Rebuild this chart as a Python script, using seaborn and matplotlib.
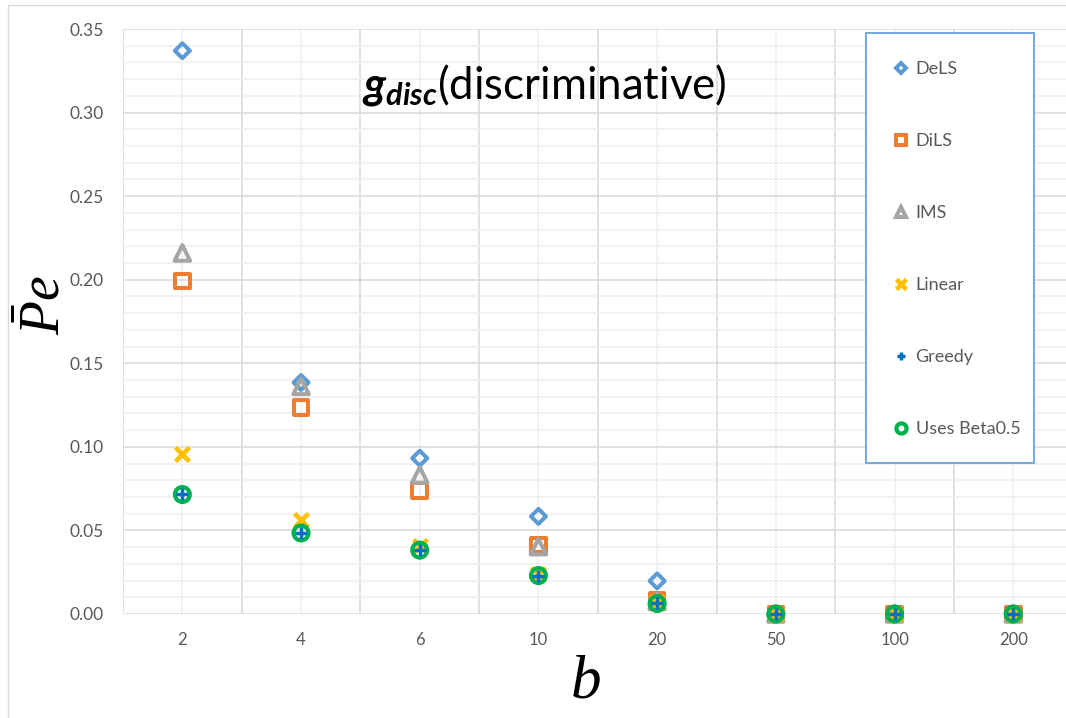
import numpy as np
import pandas as pd
import matplotlib
matplotlib.use("Agg")
import matplotlib.pyplot as plt
from matplotlib.patches import Rectangle
from matplotlib.lines import Line2D
import seaborn as sns

# Block size b (categorical axis) and mean error probability per method
b_values = ["2", "4", "6", "10", "20", "50", "100", "200"]
dels = [0.337, 0.1385, 0.0932, 0.0584, 0.0198, 0.0, 0.0, 0.0]
dils = [0.1993, 0.1234, 0.0737, 0.0412, 0.0080, 0.0, 0.0, 0.0]
ims = [0.2160, 0.1362, 0.0832, 0.0403, 0.0075, 0.0, 0.0, 0.0]
linear = [0.0960, 0.0562, 0.0405, 0.0240, 0.0070, 0.0, 0.0, 0.0]
greedy = [0.0715, 0.0485, 0.0382, 0.0230, 0.0063, 0.0, 0.0, 0.0]
beta05 = [0.0715, 0.0485, 0.0382, 0.0230, 0.0063, 0.0, 0.0, 0.0]

series_names = ["DeLS", "DiLS", "IMS", "Linear", "Greedy", "Uses Beta0.5"]
series_values = [dels, dils, ims, linear, greedy, beta05]

sns.set_theme(style="white")
plt.rcParams["font.family"] = ["Lato", "DejaVu Sans"]
plt.rcParams["mathtext.fontset"] = "custom"
plt.rcParams["mathtext.it"] = "Liberation Serif:italic"
plt.rcParams["mathtext.rm"] = "Liberation Serif"
plt.rcParams["mathtext.bf"] = "Lato:italic:bold"

df = pd.DataFrame({"b": np.tile(b_values, len(series_names)),
                   "method": np.repeat(series_names, len(b_values)),
                   "pe": np.concatenate(series_values)})

# marker, colour, hollow?, size, edge width, zorder
styles = {
    "DeLS": ("D", "#5B9BD5", True, 58, 2.9, 3),
    "DiLS": ("s", "#ED7D31", True, 112, 2.9, 3),
    "IMS": ("^", "#A5A5A5", True, 125, 2.9, 4),
    "Linear": ("x", "#FFC000", False, 100, 3.3, 4),
    "Uses Beta0.5": ("o", "#00B050", True, 115, 3.0, 5),
    "Greedy": ("+", "#0070C0", False, 70, 2.5, 6),
}

W, H = 1066, 718
fig = plt.figure(figsize=(W / 100, H / 100), dpi=100)
ax = fig.add_axes([123 / W, (H - 614) / H, 949.6 / W, 585 / H])

for name in ["DeLS", "DiLS", "IMS", "Linear", "Uses Beta0.5", "Greedy"]:
    m, c, hollow, s, lw, z = styles[name]
    sub = df[df["method"] == name]
    kw = dict(facecolor="none", edgecolor=c) if hollow else dict(color=c)
    sns.scatterplot(data=sub, x="b", y="pe", marker=m, s=s, linewidth=lw,
                    ax=ax, zorder=z, legend=False, clip_on=False, **kw)

ax.set_xlim(-0.5, len(b_values) - 0.5)
ax.set_ylim(0, 0.35)
ax.set_xticks(range(len(b_values)))
ax.set_xticklabels(b_values)
ax.set_xticks(np.arange(-0.5, len(b_values), 1.0), minor=True)
ax.set_yticks(np.arange(0, 0.351, 0.05))
ax.set_yticklabels([f"{v:.2f}" for v in np.arange(0, 0.351, 0.05)])
ax.set_yticks(np.arange(0, 0.351, 0.01), minor=True)

ax.set_axisbelow(True)
ax.grid(False)
ax.xaxis.grid(True, which="major", color="#efefef", linewidth=1.1)
ax.xaxis.grid(True, which="minor", color="#d9d9d9", linewidth=1.1)
ax.yaxis.grid(True, which="minor", color="#efefef", linewidth=1.1)
ax.yaxis.grid(True, which="major", color="#d9d9d9", linewidth=1.1)
ax.tick_params(axis="both", which="both", length=0)
ax.tick_params(axis="y", pad=14, labelsize=12.5, labelcolor="#595959")
ax.tick_params(axis="x", pad=13, labelsize=12, labelcolor="#595959")
for sp in ax.spines.values():
    sp.set_visible(False)
ax.set_xlabel("")
ax.set_ylabel("")

# axis titles
fig.text(44 / W, 1 - 305 / H, r"$\bar{P}e$", rotation=90, fontsize=40,
         ha="center", va="center", color="black")
fig.text(585 / W, 1 - 680 / H, r"$b$", fontsize=44, ha="center",
         va="center", color="black")

# chart title
fig.text(544 / W, 1 - 98 / H, r"$\mathbf{g_{disc}}$(discriminative)",
         fontsize=31.5, ha="center", va="baseline", color="black")

# outer chart frame
fig.patches.append(Rectangle((8 / W, -0.1), 1.2, 1 - 5 / H + 0.1,
                             transform=fig.transFigure, fill=False,
                             edgecolor="#d9d9d9", linewidth=1.0))

# legend box
fig.patches.append(Rectangle((866 / W, 1 - 463 / H), 168 / W, 430 / H,
                             transform=fig.transFigure, fill=True,
                             facecolor="white", edgecolor="#5B9BD5",
                             linewidth=1.2, zorder=10))
handles = []
for name in series_names:
    m, c, hollow, s, lw, z = styles[name]
    if hollow:
        h = Line2D([], [], linestyle="none", marker=m, markersize=np.sqrt(s) * 0.68,
                   markerfacecolor="none", markeredgecolor=c, markeredgewidth=lw)
    else:
        h = Line2D([], [], linestyle="none", marker=m, markersize=np.sqrt(s) * 0.72,
                   color=c, markeredgewidth=lw)
    handles.append(h)
leg = fig.legend(handles, series_names, loc="upper left",
                 bbox_to_anchor=(893 / W, 1 - 61 / H), frameon=False,
                 fontsize=13, labelcolor="#595959", labelspacing=3.1,
                 handlelength=0.9, handletextpad=0.35, borderpad=0,
                 borderaxespad=0)
leg.set_zorder(11)

fig.savefig("out.png", dpi=100)
